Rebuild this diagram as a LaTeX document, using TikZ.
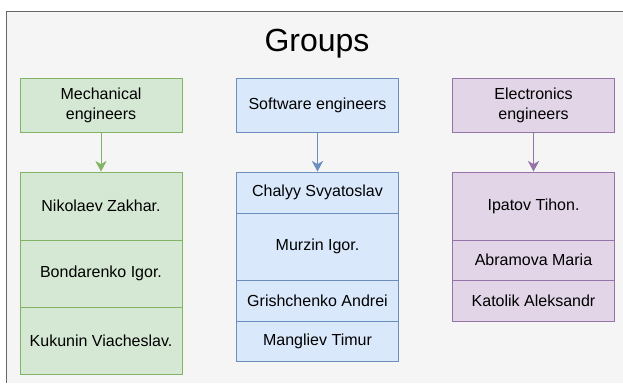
\documentclass[tikz,border=0pt]{standalone}
\usepackage{fontspec}
\setmainfont{Liberation Sans}
\usetikzlibrary{arrows.meta}
\definecolor{bggray}{HTML}{F5F5F5}
\definecolor{framegray}{HTML}{666666}
\definecolor{mechfill}{HTML}{D5E8D4}
\definecolor{mechline}{HTML}{82B366}
\definecolor{softfill}{HTML}{DAE8FC}
\definecolor{softline}{HTML}{6C8EBF}
\definecolor{elecfill}{HTML}{E1D5E7}
\definecolor{elecline}{HTML}{9673A6}

\begin{document}
\begin{tikzpicture}[x=0.75pt,y=-0.75pt]
\tikzstyle{box}=[rectangle,line width=0.75pt,inner sep=0pt,minimum width=121.5pt,align=center,font=\fontsize{12}{15}\selectfont]
\tikzstyle{mech}=[box,draw=mechline,fill=mechfill]
\tikzstyle{soft}=[box,draw=softline,fill=softfill]
\tikzstyle{elec}=[box,draw=elecline,fill=elecfill]
\tikzstyle{link}=[line width=0.75pt,-{Stealth[length=8pt,width=8.5pt,inset=2.5pt]}]
\useasboundingbox (0,0) rectangle (623,383);
% background frame
\fill[white] (0,0) rectangle (623,383);
\fill[bggray] (6,11) rectangle (623,383);
\draw[framegray,line width=0.75pt] (6,383) -- (6,11) -- (623,11);
\node (title) at (317,44) {\fontsize{24}{28}\selectfont Groups};
% headers
\node[mech,minimum height=40.5pt] (m) at (101,105) {Mechanical\\engineers};
\node[soft,minimum height=40.5pt] (s) at (317.5,105) {Software engineers};
\node[elec,minimum height=40.5pt] (e) at (533.5,105) {Electronics\\engineers};
% mechanical
\node[mech,minimum height=51pt] (m1) at (101,206) {Nikolaev Zakhar.};
\node[mech,minimum height=50.25pt] (m2) at (101,273.5) {Bondarenko Igor.};
\node[mech,minimum height=50.25pt] (m3) at (101,340.5) {Kukunin Viacheslav.};
% software
\node[soft,minimum height=30.75pt] (s1) at (317.5,192.5) {Chalyy Svyatoslav};
\node[soft,minimum height=50.25pt] (s2) at (317.5,246.5) {Murzin Igor.};
\node[soft,minimum height=30.75pt] (s3) at (317.5,300.5) {Grishchenko Andrei};
\node[soft,minimum height=30pt] (s4) at (317.5,341) {Mangliev Timur};
% electronics
\node[elec,minimum height=51pt] (e1) at (533.5,206) {Ipatov Tihon.};
\node[elec,minimum height=30pt] (e2) at (533.5,260) {Abramova Maria};
\node[elec,minimum height=30.75pt] (e3) at (533.5,300.5) {Katolik Aleksandr};
\draw[link,mechline] (m) -- (m1);
\draw[link,softline] (s) -- (s1);
\draw[link,elecline] (e) -- (e1);
\end{tikzpicture}
\end{document}
